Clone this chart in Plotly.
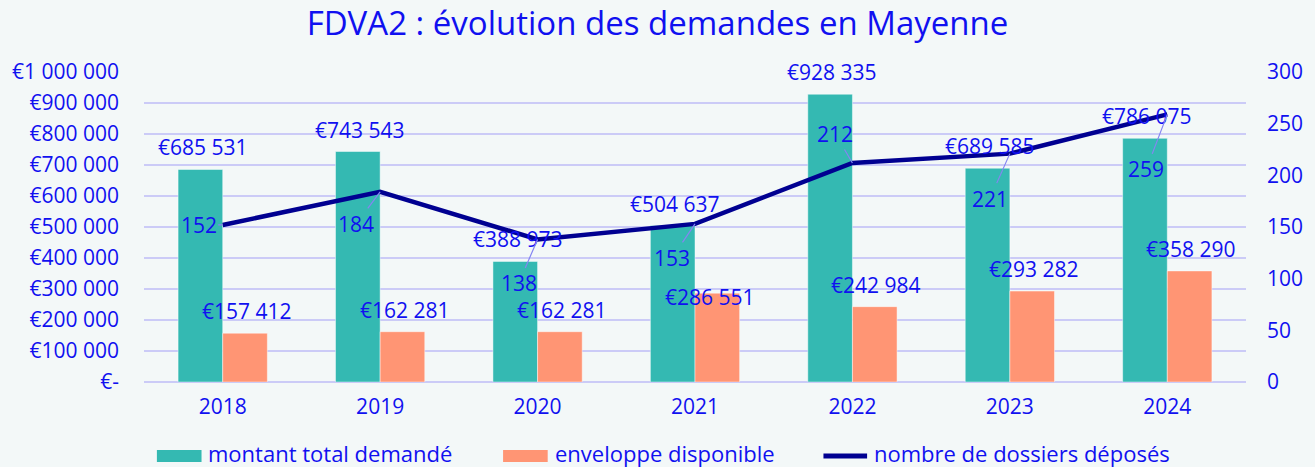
import plotly.graph_objects as go

years = ["2018", "2019", "2020", "2021", "2022", "2023", "2024"]
montant_demande = [685531, 743543, 388973, 504637, 928335, 689585, 786075]
enveloppe = [157412, 162281, 162281, 286551, 242984, 293282, 358290]
dossiers = [152, 184, 138, 153, 212, 221, 259]

left_tickvals = [0, 100000, 200000, 300000, 400000, 500000, 600000, 700000, 800000, 900000, 1000000]
left_ticktext = ["€-", "€100 000", "€200 000", "€300 000", "€400 000", "€500 000",
                 "€600 000", "€700 000", "€800 000", "€900 000", "€1 000 000"]
right_tickvals = [0, 50, 100, 150, 200, 250, 300]

series_names = ["montant total demandé", "enveloppe disponible", "nombre de dossiers déposés"]

# label placement (pixel offsets, style only)
dossier_label_dx = [-24, -24, -19, -23, -17, -20, -21]
dossier_label_dy = [0, 32, 44, 34, -29, 45, 55]
env_label_dy = [22, 22, 22, -4, 22, 22, 22]
env_label_dx = [24, 25, 24, 15, 24, 24, 24]

FONT = "Open Sans"
FS = 21
BLUE = "#1010F0"
TEAL = "#34B9B2"
SALMON = "#FF9574"
NAVY = "#000091"
GRID = "#CBCBF7"
BG = "#F3F8F8"

# plot area in pixels (for the hand-made legend)
L, R, T, B = 144, 1255, 72, 382
def px(x):
    return (x - L) / (R - L)
def py(y):
    return (B - y) / (B - T)

def eur(v):
    return "€" + f"{v:,}".replace(",", " ")

fig = go.Figure()
fig.add_trace(go.Bar(x=years, y=montant_demande, name=series_names[0],
                     marker=dict(color=TEAL, line=dict(color="rgba(255,255,255,0.45)", width=1))))
fig.add_trace(go.Bar(x=years, y=enveloppe, name=series_names[1],
                     marker=dict(color=SALMON, line=dict(color="rgba(255,255,255,0.45)", width=1))))
fig.add_trace(go.Scatter(x=years, y=dossiers, name=series_names[2], yaxis="y2",
                         mode="lines", line=dict(color=NAVY, width=4.5)))

lab_font = dict(family=FONT, size=FS, color=BLUE)
ann = []
for i, y in enumerate(years):
    # category index i on the category axis
    ann.append(dict(x=i, y=montant_demande[i], xref="x", yref="y", text=eur(montant_demande[i]),
                    showarrow=False, xshift=-20, yshift=22, font=lab_font))
    ann.append(dict(x=i, y=enveloppe[i], xref="x", yref="y", text=eur(enveloppe[i]),
                    showarrow=False, xshift=env_label_dx[i], yshift=env_label_dy[i], font=lab_font))
    ann.append(dict(x=i, y=dossiers[i], xref="x", yref="y2", text=str(dossiers[i]),
                    showarrow=True, arrowhead=0, arrowwidth=1.2, arrowcolor="#8585F2",
                    ax=dossier_label_dx[i], ay=dossier_label_dy[i], axref="pixel", ayref="pixel",
                    font=lab_font))

# hand-made legend (wide swatches like the original)
shapes = [
    dict(type="rect", xref="paper", yref="paper", x0=px(157), x1=px(202), y0=py(450), y1=py(462),
         fillcolor=TEAL, line=dict(width=0)),
    dict(type="rect", xref="paper", yref="paper", x0=px(506), x1=px(551), y0=py(450), y1=py(462),
         fillcolor=SALMON, line=dict(width=0)),
    dict(type="line", xref="paper", yref="paper", x0=px(829), x1=px(873), y0=py(456), y1=py(456),
         line=dict(color=NAVY, width=5)),
]
leg_font = dict(family=FONT, size=22, color=BLUE)
for xs, name in zip([208, 557, 879], series_names):
    ann.append(dict(x=px(xs), y=py(453), xref="paper", yref="paper", text=name, showarrow=False,
                    xanchor="left", yanchor="middle", borderpad=0, font=leg_font))

fig.update_layout(
    width=1315, height=467,
    paper_bgcolor=BG, plot_bgcolor=BG,
    margin=dict(l=L, r=1315 - R, t=T, b=467 - B),
    title=dict(text="FDVA2 : évolution des demandes en Mayenne", x=0.5, xanchor="center",
               y=1 - 23 / 467, yanchor="middle", font=dict(family=FONT, size=33, color=BLUE)),
    barmode="group", bargap=0.433, bargroupgap=0,
    showlegend=False,
    font=dict(family=FONT, size=FS, color=BLUE),
    xaxis=dict(type="category", range=[-0.5, len(years) - 0.5], showgrid=False, showline=False,
               ticks="", tickfont=dict(size=FS, color=BLUE), ticklabelstandoff=10),
    yaxis=dict(range=[0, 1000000], tickvals=left_tickvals, ticktext=left_ticktext,
               showgrid=True, gridcolor=GRID, gridwidth=1.6, zeroline=True, zerolinecolor=GRID,
               zerolinewidth=1.6, ticklabelstandoff=24, tickfont=dict(size=FS, color=BLUE)),
    yaxis2=dict(range=[0, 300], tickvals=right_tickvals, overlaying="y", side="right",
                showgrid=False, zeroline=False, ticklabelstandoff=20,
                tickfont=dict(size=FS, color=BLUE)),
    shapes=shapes,
    annotations=ann,
)

fig.write_html("out.html", config={"displayModeBar": False},
               post_script="document.body.style.margin='0';document.body.style.overflow='hidden';")
